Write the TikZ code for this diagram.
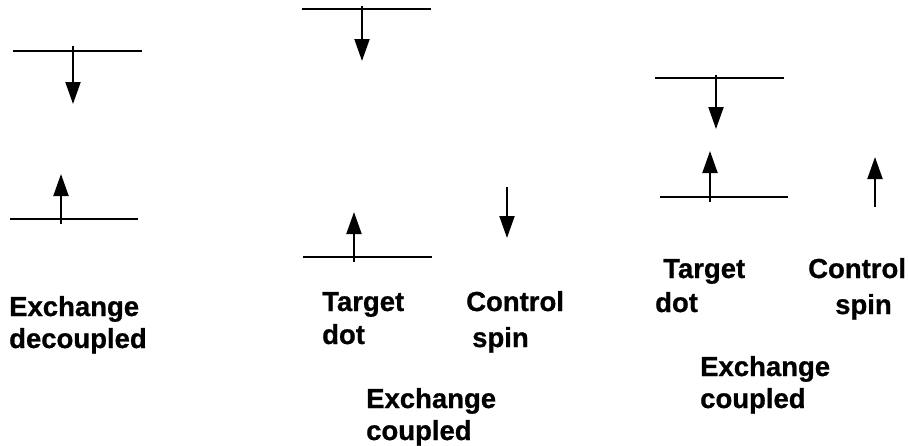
\documentclass[tikz,border=0pt]{standalone}
\usepackage{fontspec}
\setmainfont[BoldFeatures={FakeBold=0.8}]{Liberation Sans}
\usetikzlibrary{arrows.meta}
\begin{document}
\begin{tikzpicture}[x=1pt,y=-1pt,
  level/.style={line width=2pt},
  spinarrow/.style={line width=2pt,-{Triangle[length=22pt,width=15pt]}},
  lbl/.style={anchor=base west,inner sep=0pt,font=\fontsize{27.5}{31}\selectfont\bfseries}]
\useasboundingbox (0,0) rectangle (908,445);
% panel 1
\coordinate (l1aL) at (13,50.7); \coordinate (l1aR) at (142,50.7);
\coordinate (s1aS) at (73,46); \coordinate (s1aE) at (73,104);
\coordinate (l1bL) at (10,219); \coordinate (l1bR) at (138,219);
\coordinate (s1bS) at (61,224); \coordinate (s1bE) at (61,174);
\draw[level] (l1aL) -- (l1aR);
\draw[spinarrow] (s1aS) -- (s1aE);
\draw[level] (l1bL) -- (l1bR);
\draw[spinarrow] (s1bS) -- (s1bE);
% panel 2
\coordinate (l2aL) at (302,9.3); \coordinate (l2aR) at (431,9.3);
\coordinate (s2aS) at (362,6); \coordinate (s2aE) at (362,61);
\coordinate (l2bL) at (303,257); \coordinate (l2bR) at (432,257);
\coordinate (s2bS) at (354,262); \coordinate (s2bE) at (354,212);
\coordinate (c2S) at (507,187); \coordinate (c2E) at (507,238);
\draw[level] (l2aL) -- (l2aR);
\draw[spinarrow] (s2aS) -- (s2aE);
\draw[level] (l2bL) -- (l2bR);
\draw[spinarrow] (s2bS) -- (s2bE);
\draw[spinarrow] (c2S) -- (c2E);
% panel 3
\coordinate (l3aL) at (655,78); \coordinate (l3aR) at (784,78);
\coordinate (s3aS) at (716,75); \coordinate (s3aE) at (716,129);
\coordinate (l3bL) at (660,197); \coordinate (l3bR) at (788,197);
\coordinate (s3bS) at (710,202); \coordinate (s3bE) at (710,151);
\coordinate (c3S) at (875,207); \coordinate (c3E) at (875,157);
\draw[level] (l3aL) -- (l3aR);
\draw[spinarrow] (s3aS) -- (s3aE);
\draw[level] (l3bL) -- (l3bR);
\draw[spinarrow] (s3bS) -- (s3bE);
\draw[spinarrow] (c3S) -- (c3E);
% labels
\node[lbl] (t1a) at (9,316) {Exchange};
\node[lbl] (t1b) at (9,348) {decoupled};
\node[lbl] (t2a) at (322,311) {Target};
\node[lbl] (t2b) at (322,344) {dot};
\node[lbl] (t2c) at (466,311) {Control};
\node[lbl] (t2d) at (472,347) {spin};
\node[lbl] (t2e) at (366,408) {Exchange};
\node[lbl] (t2f) at (366,440) {coupled};
\node[lbl] (t3a) at (663,278) {Target};
\node[lbl] (t3b) at (655,312) {dot};
\node[lbl] (t3c) at (808,278) {Control};
\node[lbl] (t3d) at (835,314) {spin};
\node[lbl] (t3e) at (700,376) {Exchange};
\node[lbl] (t3f) at (700,408) {coupled};
\end{tikzpicture}
\end{document}
